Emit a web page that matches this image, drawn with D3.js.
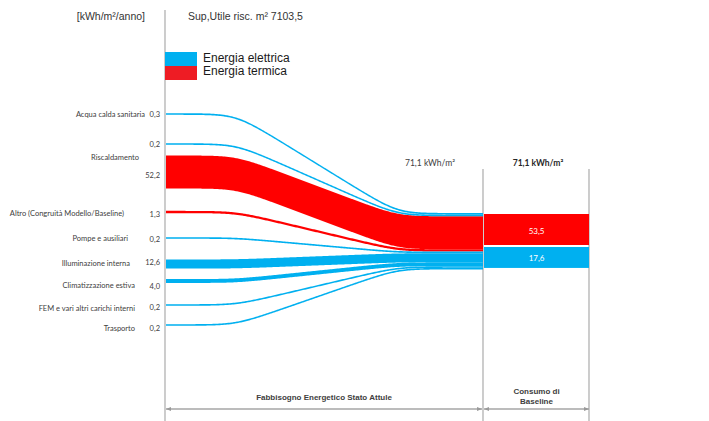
<!DOCTYPE html>
<html><head><meta charset="utf-8">
<script src="https://cdn.jsdelivr.net/npm/d3@7"></script>
<style>body{margin:0;background:#fff}svg{display:block}</style>
</head><body>
<svg id="c" width="709" height="421"></svg>
<script>
// ---- data ----
const flowNames = ["Acqua calda sanitaria","Riscaldamento (elettrica)","Riscaldamento (termica)","Altro (Congruità Modello/Baseline)","Pompe e ausiliari","Illuminazione interna","Climatizzazione estiva","FEM e vari altri carichi interni","Trasporto"];
const flowValues = [0.3, 0.2, 52.2, 1.3, 0.2, 12.6, 4.0, 0.2, 0.2];
const flowTypes = ["elettrica","elettrica","termica","termica","elettrica","elettrica","elettrica","elettrica","elettrica"];
const flowValueLabels = ["0,3","0,2","52,2","1,3","0,2","12,6","4,0","0,2","0,2"];
const categoryLabels = ["Acqua calda sanitaria","Riscaldamento","Altro (Congruità Modello/Baseline)","Pompe e ausiliari","Illuminazione interna","Climatizzazione estiva","FEM e vari altri carichi interni","Trasporto"];
const baselineValues = [53.5, 17.6];
const baselineTypes = ["termica","elettrica"];
const baselineLabels = ["53,5","17,6"];
const legendLabels = ["Energia elettrica","Energia termica"];
const legendTypes = ["elettrica","termica"];
const unitLabel = "[kWh/m²/anno]";
const surfaceLabel = "Sup,Utile risc. m² 7103,5";
const totalLabel = "71,1 kWh/m²";
const columnLabels = [["Fabbisogno Energetico Stato Attule"], ["Consumo di","Baseline"]];

// ---- layout (not data) ----
const leftSlot = [0, 3, 5.8, 9.8, 12.4, 15, 16.7, 19.1, 21.1];   // node rows on the left
const catSlot  = [0, 4.3, 9.9, 12.4, 14.9, 17.1, 19.4, 21.4];    // category label rows
const catRight = [145, 139, 124, 128, 130, 135, 135, 135];
const valSlot  = [0, 3, 6.1, 10, 12.5, 14.8, 17.2, 19.3, 21.4];

const color = {elettrica:"#00b0f0", termica:"#ff0000"};
const legendColor = {elettrica:"#00b0f0", termica:"#ee1c24"};

const svg = d3.select("#c");
const xL = 166, xM = 483, xR = 590, C1 = 236, C2 = 398;
const slotY = d3.scaleLinear().domain([0, 21.1]).range([114, 325]);
const wScale = d3.scaleLinear().domain([0, 52.2]).range([1.5, 33]);
const hScale = d3.scaleLinear().domain([0, 53.5]).range([16, 31]);

// gray vertical lines
const gridCol = "#c0c0c0";
svg.append("line").attr("x1",165).attr("x2",165).attr("y1",10).attr("y2",421).attr("stroke",gridCol).attr("stroke-width",1.6);
[xM, xR-1].forEach(x=>svg.append("line").attr("x1",x).attr("x2",x).attr("y1",169).attr("y2",421).attr("stroke",gridCol).attr("stroke-width",1.6));

// header texts
svg.append("text").attr("x",145).attr("y",16).attr("text-anchor","end").attr("dominant-baseline","central")
  .attr("font-family","Liberation Sans, Arial").attr("font-size",10.5).attr("fill","#333").text(unitLabel);
svg.append("text").attr("x",188).attr("y",16).attr("dominant-baseline","central")
  .attr("font-family","Liberation Sans, Arial").attr("font-size",10.5).attr("fill","#333").text(surfaceLabel);

// legend
legendLabels.forEach((t,i)=>{
  svg.append("rect").attr("x",165).attr("y",52+i*14).attr("width",32).attr("height",14).attr("fill",legendColor[legendTypes[i]]);
  svg.append("text").attr("x",203).attr("y",58+i*13).attr("dominant-baseline","central")
    .attr("font-family","Liberation Sans, Arial").attr("font-size",12).attr("fill","#1a1a1a").text(t);
});

// flows
const leftY = leftSlot.map(s=>slotY(s));
const widths = flowValues.map(v=>wScale(v));
let acc = 213;
const rightY = widths.map(w=>{ const c = acc + w/2; acc += w; return c; });
const k = 16;
const sp = t => Math.log1p(Math.exp(k*t))/k;
const ramp = t => sp(t) - sp(t-1);
const xs = d3.range(xL, xM + 0.5, 1);
const area = d3.area().x(d=>d.x).y0(d=>d.c - d.w/2).y1(d=>d.c + d.w/2);
const order = d3.range(flowValues.length).sort((a,b)=> (flowTypes[a]==="termica"?0:1) - (flowTypes[b]==="termica"?0:1));
svg.append("g").selectAll("path").data(order).join("path")
  .attr("d", i => {
    const pts = xs.map(x=>{
      const t = (x - C1)/(C2 - C1);
      return {x, w: widths[i], c: leftY[i] + (rightY[i]-leftY[i])*ramp(t)};
    });
    return area(pts);
  })
  .attr("fill", i=>color[flowTypes[i]]);

// left labels
const lblFont = "Lato, Open Sans, sans-serif";
svg.append("g").selectAll("text").data(categoryLabels).join("text")
  .attr("x",(d,i)=>catRight[i]).attr("y",(d,i)=>slotY(catSlot[i])).attr("text-anchor","end").attr("dominant-baseline","central")
  .attr("font-family",lblFont).attr("font-size",7.5).attr("fill","#404040").text(d=>d);
svg.append("g").selectAll("text").data(flowValueLabels).join("text")
  .attr("x",160).attr("y",(d,i)=>slotY(valSlot[i])).attr("text-anchor","end").attr("dominant-baseline","central")
  .attr("font-family",lblFont).attr("font-size",7.5).attr("fill","#404040").text(d=>d);

// totals
svg.append("text").attr("x",430).attr("y",163).attr("text-anchor","middle").attr("dominant-baseline","central")
  .attr("font-family",lblFont).attr("font-size",8.5).attr("fill","#404040").text(totalLabel);
svg.append("text").attr("x",538).attr("y",163).attr("text-anchor","middle").attr("dominant-baseline","central")
  .attr("font-family",lblFont).attr("font-size",8.5).attr("font-weight","bold").attr("fill","#262626").text(totalLabel);

// baseline stacked bar
let by = 214;
baselineValues.forEach((v,i)=>{
  const h = hScale(v);
  svg.append("rect").attr("x",xM+1).attr("y",by).attr("width",xR-xM-2).attr("height",h).attr("fill",color[baselineTypes[i]]);
  svg.append("text").attr("x",(xM+xR)/2).attr("y",by+h/2+1).attr("text-anchor","middle").attr("dominant-baseline","central")
    .attr("font-family",lblFont).attr("font-size",8).attr("fill","#fff").text(baselineLabels[i]);
  by += h + 2;
});

// bottom axis with arrows
const defs = svg.append("defs");
["s","e"].forEach(id=>{
  defs.append("marker").attr("id","m"+id).attr("viewBox","0 0 10 10").attr("refX",id==="e"?10:0).attr("refY",5)
    .attr("markerWidth",4).attr("markerHeight",4).attr("orient","auto")
    .append("path").attr("d", id==="e" ? "M0,1L10,5L0,9Z" : "M10,1L0,5L10,9Z").attr("fill","#9a9a9a");
});
[[166,482],[484,589]].forEach(([a,b])=>{
  svg.append("line").attr("x1",a).attr("x2",b).attr("y1",409).attr("y2",409).attr("stroke","#a6a6a6").attr("stroke-width",1.3)
    .attr("marker-start","url(#ms)").attr("marker-end","url(#me)");
});
const colCenters = [(165+xM)/2, (xM+xR)/2];
columnLabels.forEach((lines,i)=>{
  lines.forEach((t,j)=>{
    svg.append("text").attr("x",colCenters[i]).attr("y", lines.length===1 ? 397 : 391 + j*10).attr("text-anchor","middle").attr("dominant-baseline","central")
      .attr("font-family","Liberation Sans, Arial").attr("font-size",8).attr("font-weight","bold").attr("fill","#404040").text(t);
  });
});
</script>
</body></html>
